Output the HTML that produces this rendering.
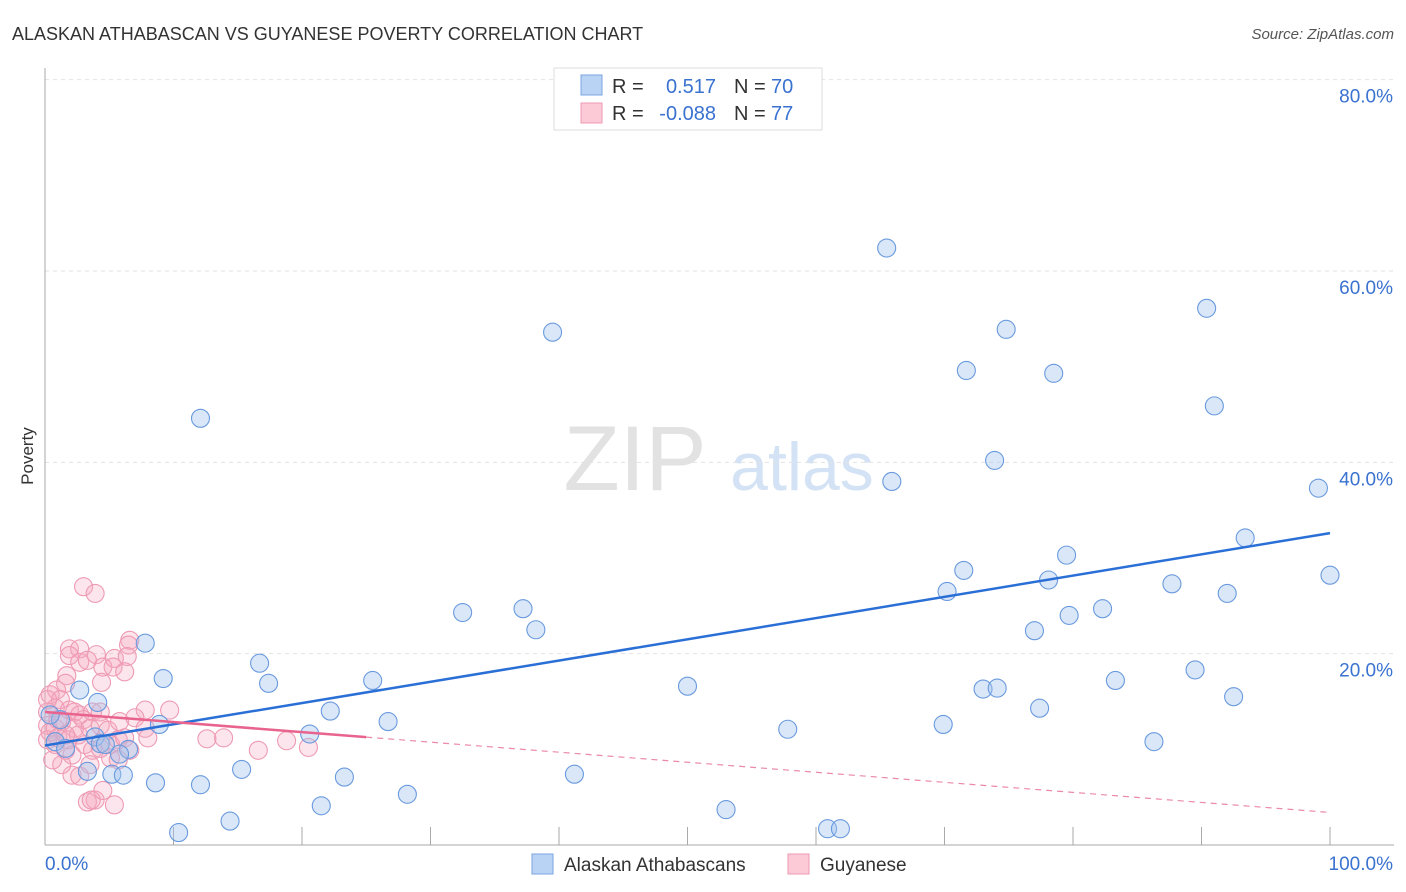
<!DOCTYPE html>
<html><head><meta charset="utf-8">
<style>
body{margin:0;background:#fff;font-family:"Liberation Sans",sans-serif;}
#wrap{position:relative;width:1406px;height:892px;overflow:hidden;}
svg text{font-family:"Liberation Sans",sans-serif;}
</style></head>
<body>
<div id="wrap">
<svg id="chart" width="1406" height="892">
  <text x="12" y="40" font-size="18" fill="#333">ALASKAN ATHABASCAN VS GUYANESE POVERTY CORRELATION CHART</text>
  <text x="1394" y="39" font-size="15" fill="#555" text-anchor="end" font-style="italic">Source: ZipAtlas.com</text>
  <text x="33" y="456" font-size="17" fill="#333" transform="rotate(-90 33 456)" text-anchor="middle">Poverty</text>
  <g>
    <text x="635" y="490" font-size="92" fill="#e2e2e2" font-family="Liberation Serif,serif" text-anchor="middle">ZIP</text>
    <text x="802" y="490" font-size="68" fill="#d3e2f4" text-anchor="middle">atlas</text>
  </g>
  <g id="grid"></g>
  <g id="axes"></g>
  <g id="pinkPts"></g>
  <g id="bluePts"></g>
  <g id="lines"></g>
  <g>
    <rect x="554" y="68" width="268" height="62" fill="#fff" stroke="#ddd"/>
    <rect x="581" y="75" width="21" height="20" fill="#b9d3f5" stroke="#7aa6e0"/>
    <rect x="581" y="103" width="21" height="20" fill="#fcc9d6" stroke="#ee9ab2"/>
    <text x="612" y="93" font-size="20" fill="#333">R = </text>
    <text x="716" y="93" font-size="20" fill="#3a72d0" text-anchor="end">0.517</text>
    <text x="734" y="93" font-size="20" fill="#333">N = </text>
    <text x="771" y="93" font-size="20" fill="#3a72d0">70</text>
    <text x="612" y="120" font-size="20" fill="#333">R = </text>
    <text x="716" y="120" font-size="20" fill="#3a72d0" text-anchor="end">-0.088</text>
    <text x="734" y="120" font-size="20" fill="#333">N = </text>
    <text x="771" y="120" font-size="20" fill="#3a72d0">77</text>
  </g>
  <g>
    <rect x="532" y="854" width="21" height="20" fill="#b9d3f5" stroke="#7aa6e0"/>
    <text x="564" y="871" font-size="19" fill="#333">Alaskan Athabascans</text>
    <rect x="788" y="854" width="21" height="20" fill="#fcc9d6" stroke="#ee9ab2"/>
    <text x="820" y="871" font-size="19" fill="#333">Guyanese</text>
  </g>
</svg>
</div>
<script>
const blueX=[65.5,39.5,74.8,90.4,12.1,71.7,78.5,91.0,73.9,65.9,99.1,93.4,79.5,71.5,78.1,100.0,87.7,70.2,92.0,32.5,37.2,82.3,38.2,79.7,77.0,7.8,16.7,9.2,17.4,25.5,50.0,73.0,74.1,83.3,89.5,92.5,2.7,4.1,22.2,26.7,20.6,69.9,57.8,77.4,8.9,86.3,0.8,1.6,3.9,6.5,5.8,15.3,23.3,41.2,5.2,6.1,3.3,8.6,12.1,28.2,21.5,53.0,14.4,10.4,60.9,61.9,4.3,4.7,1.2,0.4];
const blueY=[62.4,53.6,53.9,56.1,44.6,49.6,49.3,45.9,40.2,38.0,37.3,32.1,30.3,28.7,27.7,28.2,27.3,26.5,26.3,24.3,24.7,24.7,22.5,24.0,22.4,21.1,19.0,17.4,16.9,17.2,16.6,16.3,16.4,17.2,18.3,15.5,16.2,14.9,14.0,12.9,11.6,12.6,12.1,14.3,12.6,10.8,10.8,10.1,11.3,10.0,9.5,7.9,7.1,7.4,7.4,7.3,7.7,6.5,6.3,5.3,4.1,3.7,2.5,1.3,1.7,1.7,10.6,10.5,13.1,13.6];
const pinkX=[3.0,3.9,6.6,6.5,1.9,2.7,1.9,4.0,2.7,3.3,5.4,6.4,4.5,5.3,6.2,4.4,1.7,1.6,0.9,0.4,1.2,0.8,0.2,1.9,2.3,2.7,3.7,4.3,7.8,9.7,0.2,0.8,1.3,2.3,3.0,3.5,4.3,4.9,5.8,7.0,7.8,0.2,0.8,1.6,2.1,3.1,3.7,4.3,5.1,5.7,6.2,8.0,12.6,13.9,16.6,18.8,20.5,0.4,1.0,1.8,2.6,2.1,2.7,1.3,3.5,5.1,5.7,3.9,3.3,3.6,5.4,4.5,0.6,1.0,0.2,1.6,6.6];
const pinkY=[27.0,26.3,21.4,20.9,20.5,20.5,19.8,19.9,19.1,19.3,19.5,19.7,18.6,18.6,18.1,17.0,17.7,16.9,16.2,15.7,15.2,14.3,13.9,14.1,13.9,13.6,13.9,13.9,14.1,14.1,12.5,12.2,12.9,12.2,13.1,12.2,12.5,12.0,12.9,13.3,12.2,11.0,10.5,9.9,9.4,10.5,9.9,10.1,10.5,11.0,11.2,11.2,11.1,11.2,9.9,10.9,10.2,11.8,11.2,11.0,11.5,7.3,7.2,8.4,8.4,9.1,8.9,4.7,4.5,4.7,4.2,5.7,8.9,13.1,15.2,11.5,9.9];
const yTicks=[20,40,60,80];
const yTickLabels=["20.0%","40.0%","60.0%","80.0%"];
const xTickVals=[0,10,20,30,40,50,60,70,80,90,100];
const blueTrend=[10.4,32.6];
const pinkTrend=[13.9,3.4];
const pinkSolidEnd=25;

const NS="http://www.w3.org/2000/svg";
const sx=v=>45+v*12.85;
const sy=v=>845-v*9.567;
function mk(tag,attrs,parent){const e=document.createElementNS(NS,tag);for(const k in attrs)e.setAttribute(k,attrs[k]);parent.appendChild(e);return e;}
const grid=document.getElementById('grid'),axes=document.getElementById('axes');
yTicks.forEach((t,i)=>{
  const l=mk('line',{x1:45,x2:1394,y1:sy(t),y2:sy(t),stroke:'#e2e2e2','stroke-dasharray':'4,4'},grid);
  
  
  const tx=mk('text',{x:1393,y:sy(t)+23,'font-size':19,fill:'#3a72d0','text-anchor':'end'},axes);
  tx.textContent=yTickLabels[i];
  
  
});
const ya=mk('line',{x1:45,x2:45,y1:68,y2:845,stroke:'#aaa'},axes);


const xa=mk('line',{x1:45,x2:1394,y1:845,y2:845,stroke:'#aaa'},axes);


xTickVals.forEach(t=>{
  const l=mk('line',{x1:sx(t),x2:sx(t),y1:827,y2:845,stroke:'#aaa'},axes);
  
  
});
const xl0=mk('text',{x:45,y:870,'font-size':19,fill:'#3a72d0'},axes);xl0.textContent='0.0%';


const xl1=mk('text',{x:1393,y:870,'font-size':19,fill:'#3a72d0','text-anchor':'end'},axes);xl1.textContent='100.0%';



const pg=document.getElementById('pinkPts');
pinkX.forEach((x,i)=>{
  const c=mk('circle',{cx:sx(x),cy:sy(pinkY[i]),r:9,fill:'rgba(246,170,192,0.3)',stroke:'#ee9ab3','stroke-width':1.1},pg);
  
  
});
const bg=document.getElementById('bluePts');
blueX.forEach((x,i)=>{
  const c=mk('circle',{cx:sx(x),cy:sy(blueY[i]),r:9,fill:'rgba(160,196,238,0.4)',stroke:'#6a9ade','stroke-width':1.1},bg);
  
  
});
const lg=document.getElementById('lines');
const bl=mk('line',{x1:sx(0),y1:sy(blueTrend[0]),x2:sx(100),y2:sy(blueTrend[1]),stroke:'#2a6fd6','stroke-width':2.5},lg);


const pAt=x=>pinkTrend[0]+(pinkTrend[1]-pinkTrend[0])*x/100;
const pl=mk('line',{x1:sx(0),y1:sy(pinkTrend[0]),x2:sx(pinkSolidEnd),y2:sy(pAt(pinkSolidEnd)),stroke:'#e8638e','stroke-width':2.5},lg);


const pd=mk('line',{x1:sx(pinkSolidEnd),y1:sy(pAt(pinkSolidEnd)),x2:sx(100),y2:sy(pinkTrend[1]),stroke:'#eb89a8','stroke-width':1.2,'stroke-dasharray':'6,5'},lg);


</script>
</body></html>
